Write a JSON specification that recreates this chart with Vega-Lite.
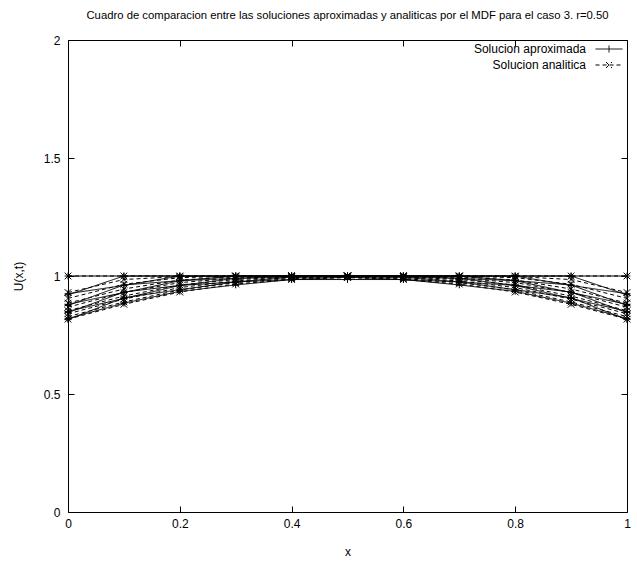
{
  "$schema": "https://vega.github.io/schema/vega-lite/v6.json",
  "width": 559,
  "height": 472,
  "autosize": {"type": "none"},
  "padding": {"left": 68, "top": 40, "right": 10, "bottom": 51},
  "config": {
    "font": "Liberation Sans",
    "view": {"stroke": "black", "strokeWidth": 1},
    "axis": {
      "grid": false, "domain": false, "tickColor": "black", "tickSize": -6, "tickWidth": 1,
      "labelColor": "black", "labelFontSize": 12, "labelFont": "Liberation Sans",
      "titleColor": "black", "titleFontSize": 12, "titleFontWeight": "normal", "titleFont": "Liberation Sans"
    }
  },
  "title": {
    "text": "Cuadro de comparacion entre las soluciones aproximadas y analiticas por el MDF para el caso 3. r=0.50",
    "fontSize": 11.3, "fontWeight": "normal", "font": "Liberation Sans", "color": "black",
    "anchor": "middle", "offset": 13
  },
  "data": {"values": [
    {"s":"A","t":0,"x":0,"u":1},{"s":"A","t":0,"x":0.1,"u":1},{"s":"A","t":0,"x":0.2,"u":1},{"s":"A","t":0,"x":0.3,"u":1},{"s":"A","t":0,"x":0.4,"u":1},{"s":"A","t":0,"x":0.5,"u":1},{"s":"A","t":0,"x":0.6,"u":1},{"s":"A","t":0,"x":0.7,"u":1},{"s":"A","t":0,"x":0.8,"u":1},{"s":"A","t":0,"x":0.9,"u":1},{"s":"A","t":0,"x":1,"u":1},
    {"s":"A","t":1,"x":0,"u":0.92},{"s":"A","t":1,"x":0.1,"u":1},{"s":"A","t":1,"x":0.2,"u":1},{"s":"A","t":1,"x":0.3,"u":1},{"s":"A","t":1,"x":0.4,"u":1},{"s":"A","t":1,"x":0.5,"u":1},{"s":"A","t":1,"x":0.6,"u":1},{"s":"A","t":1,"x":0.7,"u":1},{"s":"A","t":1,"x":0.8,"u":1},{"s":"A","t":1,"x":0.9,"u":1},{"s":"A","t":1,"x":1,"u":0.92},
    {"s":"A","t":2,"x":0,"u":0.925},{"s":"A","t":2,"x":0.1,"u":0.96},{"s":"A","t":2,"x":0.2,"u":1},{"s":"A","t":2,"x":0.3,"u":1},{"s":"A","t":2,"x":0.4,"u":1},{"s":"A","t":2,"x":0.5,"u":1},{"s":"A","t":2,"x":0.6,"u":1},{"s":"A","t":2,"x":0.7,"u":1},{"s":"A","t":2,"x":0.8,"u":1},{"s":"A","t":2,"x":0.9,"u":0.96},{"s":"A","t":2,"x":1,"u":0.925},
    {"s":"A","t":3,"x":0,"u":0.875},{"s":"A","t":3,"x":0.1,"u":0.962},{"s":"A","t":3,"x":0.2,"u":0.98},{"s":"A","t":3,"x":0.3,"u":1},{"s":"A","t":3,"x":0.4,"u":1},{"s":"A","t":3,"x":0.5,"u":1},{"s":"A","t":3,"x":0.6,"u":1},{"s":"A","t":3,"x":0.7,"u":1},{"s":"A","t":3,"x":0.8,"u":0.98},{"s":"A","t":3,"x":0.9,"u":0.962},{"s":"A","t":3,"x":1,"u":0.875},
    {"s":"A","t":4,"x":0,"u":0.88},{"s":"A","t":4,"x":0.1,"u":0.93},{"s":"A","t":4,"x":0.2,"u":0.98},{"s":"A","t":4,"x":0.3,"u":0.99},{"s":"A","t":4,"x":0.4,"u":1},{"s":"A","t":4,"x":0.5,"u":1},{"s":"A","t":4,"x":0.6,"u":1},{"s":"A","t":4,"x":0.7,"u":0.99},{"s":"A","t":4,"x":0.8,"u":0.98},{"s":"A","t":4,"x":0.9,"u":0.93},{"s":"A","t":4,"x":1,"u":0.88},
    {"s":"A","t":5,"x":0,"u":0.845},{"s":"A","t":5,"x":0.1,"u":0.932},{"s":"A","t":5,"x":0.2,"u":0.96},{"s":"A","t":5,"x":0.3,"u":0.99},{"s":"A","t":5,"x":0.4,"u":0.995},{"s":"A","t":5,"x":0.5,"u":1},{"s":"A","t":5,"x":0.6,"u":0.995},{"s":"A","t":5,"x":0.7,"u":0.99},{"s":"A","t":5,"x":0.8,"u":0.96},{"s":"A","t":5,"x":0.9,"u":0.932},{"s":"A","t":5,"x":1,"u":0.845},
    {"s":"A","t":6,"x":0,"u":0.85},{"s":"A","t":6,"x":0.1,"u":0.905},{"s":"A","t":6,"x":0.2,"u":0.96},{"s":"A","t":6,"x":0.3,"u":0.975},{"s":"A","t":6,"x":0.4,"u":0.995},{"s":"A","t":6,"x":0.5,"u":0.995},{"s":"A","t":6,"x":0.6,"u":0.995},{"s":"A","t":6,"x":0.7,"u":0.975},{"s":"A","t":6,"x":0.8,"u":0.96},{"s":"A","t":6,"x":0.9,"u":0.905},{"s":"A","t":6,"x":1,"u":0.85},
    {"s":"A","t":7,"x":0,"u":0.815},{"s":"A","t":7,"x":0.1,"u":0.908},{"s":"A","t":7,"x":0.2,"u":0.942},{"s":"A","t":7,"x":0.3,"u":0.975},{"s":"A","t":7,"x":0.4,"u":0.985},{"s":"A","t":7,"x":0.5,"u":0.995},{"s":"A","t":7,"x":0.6,"u":0.985},{"s":"A","t":7,"x":0.7,"u":0.975},{"s":"A","t":7,"x":0.8,"u":0.942},{"s":"A","t":7,"x":0.9,"u":0.908},{"s":"A","t":7,"x":1,"u":0.815},
    {"s":"A","t":8,"x":0,"u":0.82},{"s":"A","t":8,"x":0.1,"u":0.885},{"s":"A","t":8,"x":0.2,"u":0.935},{"s":"A","t":8,"x":0.3,"u":0.962},{"s":"A","t":8,"x":0.4,"u":0.985},{"s":"A","t":8,"x":0.5,"u":0.985},{"s":"A","t":8,"x":0.6,"u":0.985},{"s":"A","t":8,"x":0.7,"u":0.962},{"s":"A","t":8,"x":0.8,"u":0.935},{"s":"A","t":8,"x":0.9,"u":0.885},{"s":"A","t":8,"x":1,"u":0.82},
    {"s":"B","t":0,"x":0,"u":1},{"s":"B","t":0,"x":0.1,"u":1},{"s":"B","t":0,"x":0.2,"u":1},{"s":"B","t":0,"x":0.3,"u":1},{"s":"B","t":0,"x":0.4,"u":1},{"s":"B","t":0,"x":0.5,"u":1},{"s":"B","t":0,"x":0.6,"u":1},{"s":"B","t":0,"x":0.7,"u":1},{"s":"B","t":0,"x":0.8,"u":1},{"s":"B","t":0,"x":0.9,"u":1},{"s":"B","t":0,"x":1,"u":1},
    {"s":"B","t":1,"x":0,"u":0.93},{"s":"B","t":1,"x":0.1,"u":0.985},{"s":"B","t":1,"x":0.2,"u":0.998},{"s":"B","t":1,"x":0.3,"u":1},{"s":"B","t":1,"x":0.4,"u":1},{"s":"B","t":1,"x":0.5,"u":1},{"s":"B","t":1,"x":0.6,"u":1},{"s":"B","t":1,"x":0.7,"u":1},{"s":"B","t":1,"x":0.8,"u":0.998},{"s":"B","t":1,"x":0.9,"u":0.985},{"s":"B","t":1,"x":1,"u":0.93},
    {"s":"B","t":2,"x":0,"u":0.905},{"s":"B","t":2,"x":0.1,"u":0.965},{"s":"B","t":2,"x":0.2,"u":0.993},{"s":"B","t":2,"x":0.3,"u":0.999},{"s":"B","t":2,"x":0.4,"u":1},{"s":"B","t":2,"x":0.5,"u":1},{"s":"B","t":2,"x":0.6,"u":1},{"s":"B","t":2,"x":0.7,"u":0.999},{"s":"B","t":2,"x":0.8,"u":0.993},{"s":"B","t":2,"x":0.9,"u":0.965},{"s":"B","t":2,"x":1,"u":0.905},
    {"s":"B","t":3,"x":0,"u":0.885},{"s":"B","t":3,"x":0.1,"u":0.945},{"s":"B","t":3,"x":0.2,"u":0.983},{"s":"B","t":3,"x":0.3,"u":0.996},{"s":"B","t":3,"x":0.4,"u":1},{"s":"B","t":3,"x":0.5,"u":1},{"s":"B","t":3,"x":0.6,"u":1},{"s":"B","t":3,"x":0.7,"u":0.996},{"s":"B","t":3,"x":0.8,"u":0.983},{"s":"B","t":3,"x":0.9,"u":0.945},{"s":"B","t":3,"x":1,"u":0.885},
    {"s":"B","t":4,"x":0,"u":0.868},{"s":"B","t":4,"x":0.1,"u":0.93},{"s":"B","t":4,"x":0.2,"u":0.972},{"s":"B","t":4,"x":0.3,"u":0.991},{"s":"B","t":4,"x":0.4,"u":0.998},{"s":"B","t":4,"x":0.5,"u":1},{"s":"B","t":4,"x":0.6,"u":0.998},{"s":"B","t":4,"x":0.7,"u":0.991},{"s":"B","t":4,"x":0.8,"u":0.972},{"s":"B","t":4,"x":0.9,"u":0.93},{"s":"B","t":4,"x":1,"u":0.868},
    {"s":"B","t":5,"x":0,"u":0.853},{"s":"B","t":5,"x":0.1,"u":0.915},{"s":"B","t":5,"x":0.2,"u":0.962},{"s":"B","t":5,"x":0.3,"u":0.985},{"s":"B","t":5,"x":0.4,"u":0.996},{"s":"B","t":5,"x":0.5,"u":0.999},{"s":"B","t":5,"x":0.6,"u":0.996},{"s":"B","t":5,"x":0.7,"u":0.985},{"s":"B","t":5,"x":0.8,"u":0.962},{"s":"B","t":5,"x":0.9,"u":0.915},{"s":"B","t":5,"x":1,"u":0.853},
    {"s":"B","t":6,"x":0,"u":0.84},{"s":"B","t":6,"x":0.1,"u":0.902},{"s":"B","t":6,"x":0.2,"u":0.951},{"s":"B","t":6,"x":0.3,"u":0.979},{"s":"B","t":6,"x":0.4,"u":0.993},{"s":"B","t":6,"x":0.5,"u":0.998},{"s":"B","t":6,"x":0.6,"u":0.993},{"s":"B","t":6,"x":0.7,"u":0.979},{"s":"B","t":6,"x":0.8,"u":0.951},{"s":"B","t":6,"x":0.9,"u":0.902},{"s":"B","t":6,"x":1,"u":0.84},
    {"s":"B","t":7,"x":0,"u":0.828},{"s":"B","t":7,"x":0.1,"u":0.89},{"s":"B","t":7,"x":0.2,"u":0.941},{"s":"B","t":7,"x":0.3,"u":0.972},{"s":"B","t":7,"x":0.4,"u":0.989},{"s":"B","t":7,"x":0.5,"u":0.996},{"s":"B","t":7,"x":0.6,"u":0.989},{"s":"B","t":7,"x":0.7,"u":0.972},{"s":"B","t":7,"x":0.8,"u":0.941},{"s":"B","t":7,"x":0.9,"u":0.89},{"s":"B","t":7,"x":1,"u":0.828},
    {"s":"B","t":8,"x":0,"u":0.817},{"s":"B","t":8,"x":0.1,"u":0.88},{"s":"B","t":8,"x":0.2,"u":0.932},{"s":"B","t":8,"x":0.3,"u":0.966},{"s":"B","t":8,"x":0.4,"u":0.985},{"s":"B","t":8,"x":0.5,"u":0.993},{"s":"B","t":8,"x":0.6,"u":0.985},{"s":"B","t":8,"x":0.7,"u":0.966},{"s":"B","t":8,"x":0.8,"u":0.932},{"s":"B","t":8,"x":0.9,"u":0.88},{"s":"B","t":8,"x":1,"u":0.817}
  ]},
  "layer": [
    {
      "mark": {"type": "line", "color": "black", "strokeWidth": 1},
      "encoding": {
        "x": {"field": "x", "type": "quantitative", "scale": {"domain": [0, 1], "nice": false, "zero": false},
              "axis": {"orient": "bottom", "title": "x", "values": [0, 0.2, 0.4, 0.6, 0.8, 1], "format": "~g", "labelPadding": 12, "titlePadding": 17, "labelFlush": false}},
        "y": {"field": "u", "type": "quantitative", "scale": {"domain": [0, 2], "nice": false},
              "axis": {"orient": "left", "title": "U(x,t)", "values": [0, 0.5, 1, 1.5, 2], "format": "~g", "labelPadding": 14, "titlePadding": 18, "labelFlush": false}},
        "detail": {"field": "t", "type": "nominal"},
        "strokeDash": {
          "field": "s", "type": "nominal",
          "scale": {"domain": ["A", "B"], "range": [[1, 0], [4, 3]]},
          "legend": {
            "title": null, "orient": "none", "legendX": 535, "legendY": 3,
            "padding": 0, "rowPadding": 4,
            "symbolSize": 100, "symbolStrokeWidth": 1, "symbolStrokeColor": "black", "symbolFillColor": "transparent",
            "symbolType": "M-2.7,0H2.7M0,-0.7V0.7",
            "labelAlign": "right", "labelOffset": -29, "labelFontSize": 12, "labelColor": "black", "labelFont": "Liberation Sans",
            "labelExpr": "datum.value == 'A' ? 'Solucion aproximada' : 'Solucion analitica'",
            "encode": {"symbols": {"update": {"shape": {"signal": "datum.value == 'A' ? 'M-2.7,0H2.7M0,-0.7V0.7' : 'M-2.7,0H2.7M-0.6,-0.6L0.6,0.6M-0.6,0.6L0.6,-0.6'"}}}}
          }
        }
      }
    },
    {
      "transform": [{"filter": "datum.s == 'A'"}],
      "mark": {"type": "point", "shape": "M-1,0H1M0,-1V1", "color": "black", "filled": false, "strokeWidth": 1, "size": 45, "opacity": 1},
      "encoding": {
        "x": {"field": "x", "type": "quantitative", "axis": {"orient": "top", "title": null, "labels": false, "values": [0, 0.2, 0.4, 0.6, 0.8, 1]}},
        "y": {"field": "u", "type": "quantitative", "axis": {"orient": "right", "title": null, "labels": false, "values": [0, 0.5, 1, 1.5, 2]}}
      }
    },
    {
      "transform": [{"filter": "datum.s == 'B'"}],
      "mark": {"type": "point", "shape": "M-1,-1L1,1M-1,1L1,-1", "color": "black", "filled": false, "strokeWidth": 1, "size": 45, "opacity": 1},
      "encoding": {
        "x": {"field": "x", "type": "quantitative", "axis": null},
        "y": {"field": "u", "type": "quantitative", "axis": null}
      }
    }
  ],
  "resolve": {"axis": {"x": "independent", "y": "independent"}}
}
